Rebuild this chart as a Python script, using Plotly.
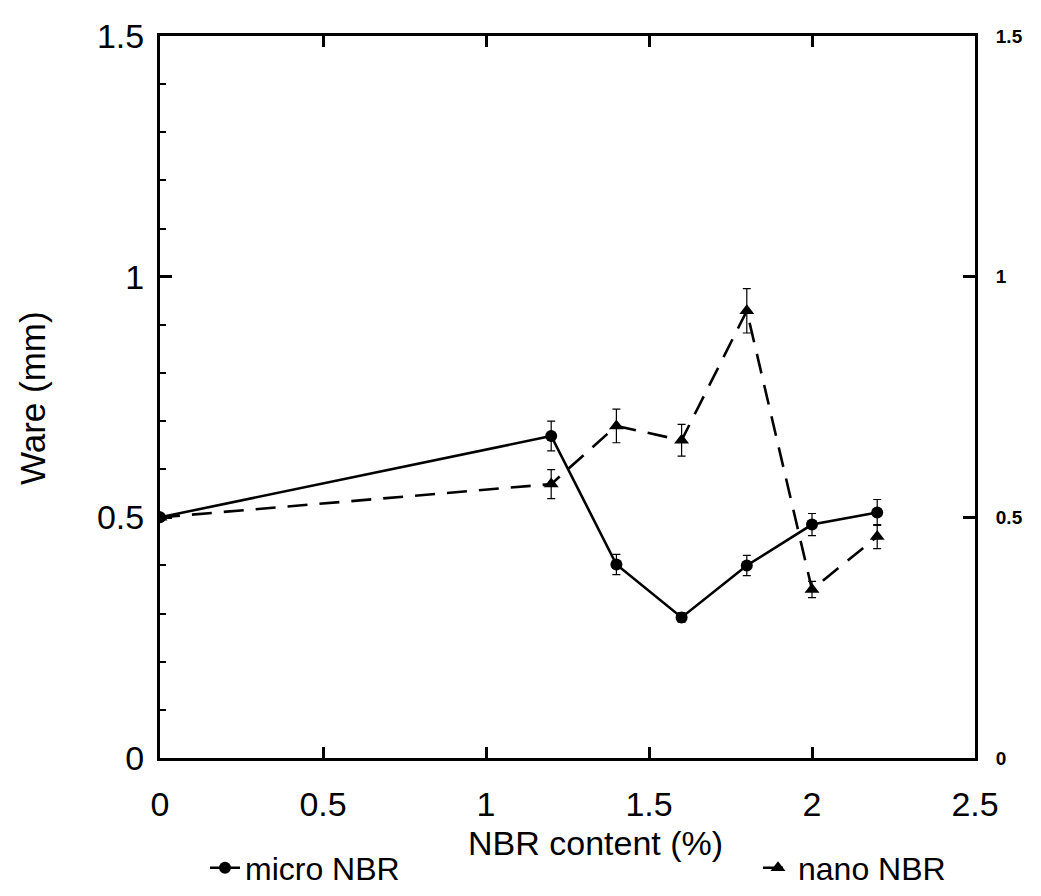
import plotly.graph_objects as go

x_content = [0, 1.2, 1.4, 1.6, 1.8, 2.0, 2.2]
micro_wear = [0.50, 0.669, 0.402, 0.292, 0.400, 0.485, 0.510]
micro_err = [0.0, 0.031, 0.021, 0.010, 0.021, 0.023, 0.027]
nano_wear = [0.50, 0.569, 0.690, 0.660, 0.929, 0.350, 0.460]
nano_err = [0.0, 0.030, 0.035, 0.033, 0.046, 0.017, 0.025]

x_ticks = [0, 0.5, 1, 1.5, 2, 2.5]
x_tick_text = ["0", "0.5", "1", "1.5", "2", "2.5"]
y_ticks = [0, 0.5, 1, 1.5]
y_tick_text = ["0", "0.5", "1", "1.5"]

FONT = "Liberation Sans, Arial, sans-serif"
L, R, T, B = 160, 66, 36, 138
W, H = 1041, 896
pw = W - L - R
ph = H - T - B

fig = go.Figure()
fig.add_trace(go.Scatter(
    x=x_content, y=micro_wear, name="micro NBR", mode="lines+markers",
    line=dict(color="black", width=2.6),
    marker=dict(symbol="circle", size=12, color="black"),
    error_y=dict(type="data", array=micro_err, visible=True, color="black", thickness=1.2, width=4),
    legend="legend",
))
fig.add_trace(go.Scatter(
    x=x_content, y=nano_wear, name="nano NBR", mode="lines+markers",
    line=dict(color="black", width=2.6, dash="20px,12px"),
    marker=dict(symbol="triangle-up", size=13, color="black"),
    error_y=dict(type="data", array=nano_err, visible=True, color="black", thickness=1.2, width=4),
    legend="legend2",
))
# invisible trace to activate right axis
fig.add_trace(go.Scatter(x=[0], y=[0], yaxis="y2", mode="markers",
                         marker=dict(opacity=0), showlegend=False, hoverinfo="skip"))

leg_y = (ph - (868 - T)) / ph

fig.update_layout(
    width=W, height=H,
    margin=dict(l=L, r=R, t=T, b=B, autoexpand=False),
    paper_bgcolor="white", plot_bgcolor="white",
    font=dict(family=FONT, color="black", size=34),
    xaxis=dict(range=[0, 2.5], tickvals=x_ticks, ticktext=x_tick_text,
               ticks="inside", ticklen=11, tickwidth=2.5, tickcolor="black",
               showline=True, linewidth=3, linecolor="black", mirror="ticks",
               showgrid=False, zeroline=False,
               tickfont=dict(size=34, family=FONT), ticklabelstandoff=14),
    yaxis=dict(range=[0, 1.5], tickvals=y_ticks, ticktext=y_tick_text,
               ticks="inside", ticklen=12, tickwidth=2.5, tickcolor="black",
               showline=True, linewidth=3, linecolor="black",
               showgrid=False, zeroline=False,
               minor=dict(dtick=0.1, ticks="inside", ticklen=6, tickwidth=2, tickcolor="black"),
               tickfont=dict(size=34, family=FONT), ticklabelstandoff=6),
    yaxis2=dict(range=[0, 1.5], overlaying="y", side="right",
                tickvals=y_ticks, ticktext=y_tick_text,
                ticks="inside", ticklen=12, tickwidth=2.5, tickcolor="black",
                showline=True, linewidth=3, linecolor="black",
                showgrid=False, zeroline=False,
                tickfont=dict(size=19, family="Liberation Sans, Arial", weight="bold"),
                ticklabelstandoff=14),
    legend=dict(x=(205 - L) / pw, y=leg_y, xanchor="left", yanchor="middle",
                orientation="h", font=dict(size=32, family=FONT), bgcolor="rgba(0,0,0,0)",
                itemwidth=30, tracegroupgap=0),
    legend2=dict(x=(758 - L) / pw, y=leg_y, xanchor="left", yanchor="middle",
                 orientation="h", font=dict(size=32, family=FONT), bgcolor="rgba(0,0,0,0)",
                 itemwidth=30, tracegroupgap=0),
    showlegend=True,
    annotations=[
        dict(text="NBR content (%)", xref="paper", yref="paper",
             x=(595 - L) / pw, y=(ph - (843 - T)) / ph, xanchor="center", yanchor="middle",
             showarrow=False, font=dict(size=34, family=FONT)),
        dict(text="Ware (mm)", xref="paper", yref="paper", textangle=-90,
             x=(32 - L) / pw, y=(ph - (398 - T)) / ph, xanchor="center", yanchor="middle",
             showarrow=False, font=dict(size=35, family=FONT)),
    ],
)

fig.write_html("out.html")
